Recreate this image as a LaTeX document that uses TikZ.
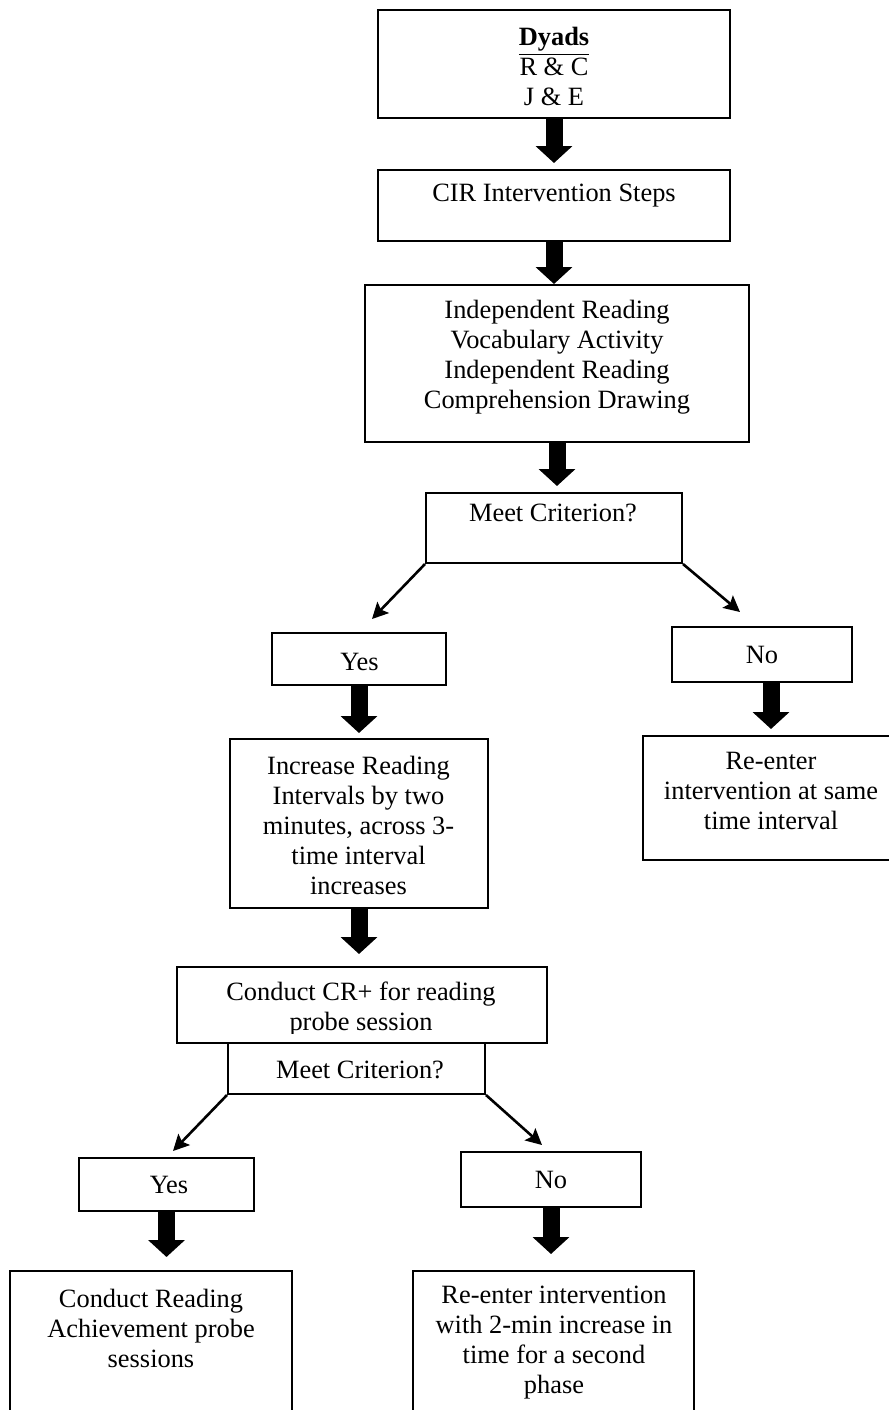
\documentclass[tikz,border=0pt]{standalone}
\usepackage{fontspec}
\setmainfont{Liberation Serif}
\usetikzlibrary{arrows.meta}

\tikzset{
  stepbox/.style={draw, line width=1pt, fill=white, inner sep=0pt},
  steptext/.style={align=center, inner sep=0pt, font=\fontsize{13.2}{15}\selectfont},
  bigarrow/.style={line width=8.5pt, -{Triangle[length=8.5pt, width=18pt]}},
  thinarrow/.style={line width=1.3pt, -{Stealth[length=8pt, width=8pt, inset=1.5pt]}}
}

\begin{document}
\begin{tikzpicture}[x=0.5pt, y=-0.5pt]
  \useasboundingbox (0,0) rectangle (889,1410);
  \clip (0,0) rectangle (889,1410);

  % boxes
  \node[stepbox, minimum width=176pt, minimum height=54pt] (dyads) at (554,64) {};
  \node[stepbox, minimum width=176pt, minimum height=35.5pt] (cir) at (554,205.5) {};
  \node[stepbox, minimum width=192pt, minimum height=78.5pt] (indep) at (557,363.5) {};
  \node[stepbox, minimum width=128pt, minimum height=35pt] (meet1) at (554,528) {};
  \node[stepbox, minimum width=87pt, minimum height=26pt] (yes1) at (359,659) {};
  \node[stepbox, minimum width=90pt, minimum height=27.5pt] (no1) at (762,654.5) {};
  \node[stepbox, minimum width=129pt, minimum height=84.5pt] (incr) at (359,823.5) {};
  \node[stepbox, minimum width=128pt, minimum height=62pt] (reenter1) at (771,798) {};
  \node[stepbox, minimum width=185pt, minimum height=38pt] (conduct) at (362,1005) {};
  \node[stepbox, minimum width=128.5pt, minimum height=25.5pt] (meet2) at (356.5,1068.5) {};
  \node[stepbox, minimum width=87.5pt, minimum height=26.5pt] (yes2) at (166.5,1184.5) {};
  \node[stepbox, minimum width=90pt, minimum height=27.5pt] (no2) at (551,1179.5) {};
  \node[stepbox, minimum width=141pt, minimum height=84.5pt] (achieve) at (151,1355.5) {};
  \node[stepbox, minimum width=140.5pt, minimum height=84.5pt] (reenter2) at (553.5,1355.5) {};

  % texts
  \node[steptext] (dyadsT) at (554,66.5) {\underline{\textbf{Dyads}}\\R \& C\\J \& E};
  \node[steptext] (cirT) at (554,196) {CIR Intervention Steps};
  \node[steptext] (indepT) at (557,357.5)
    {Independent Reading\\Vocabulary Activity\\Independent Reading\\Comprehension Drawing};
  \node[steptext] (meet1T) at (553,513) {Meet Criterion?};
  \node[steptext] (yes1T) at (359.5,662) {Yes};
  \node[steptext] (no1T) at (762,655) {No};
  \node[steptext] (incrT) at (358.5,825.5)
    {Increase Reading\\Intervals by two\\minutes, across 3-\\time interval\\increases};
  \node[steptext] (reenter1T) at (771,791) {Re-enter\\intervention at same\\time interval};
  \begin{scope}
    \clip (177,967) rectangle (547,1033);
    \node[steptext] (conductT) at (361,1008.5) {Conduct CR+ for reading\\probe session};
  \end{scope}
  \node[steptext] (meet2T) at (360,1070) {Meet Criterion?};
  \node[steptext] (yes2T) at (169,1185) {Yes};
  \node[steptext] (no2T) at (551,1180) {No};
  \node[steptext] (achieveT) at (151,1328) {Conduct Reading\\Achievement probe\\sessions};
  \node[steptext] (reenter2T) at (554,1342.5)
    {Re-enter intervention\\with 2-min increase in\\time for a second\\phase};

  % block arrows
  \draw[bigarrow, shorten >=3pt] (dyads.south) -- (dyads.south |- cir.north);
  \draw[bigarrow] (cir.south) -- (cir.south |- indep.north);
  \draw[bigarrow, shorten >=3pt] (indep.south) -- (indep.south |- meet1.north);
  \draw[bigarrow, shorten >=2.5pt] (yes1.south) -- (yes1.south |- incr.north);
  \draw[bigarrow, shorten >=3pt] (no1.south -| reenter1.north) -- (reenter1.north);
  \draw[bigarrow, shorten >=6pt] (incr.south) -- (incr.south |- conduct.north);
  \draw[bigarrow, shorten >=6.5pt] (yes2.south) -- (yes2.south |- achieve.north);
  \draw[bigarrow, shorten >=8pt] (no2.south) -- (no2.south |- reenter2.north);

  % decision arrows
  \draw[thinarrow] (meet1.south west) -- ([xshift=6.5pt, yshift=6.5pt]yes1.north);
  \draw[thinarrow] (meet1.south east) -- ([xshift=-11pt, yshift=7pt]no1.north);
  \draw[thinarrow] (meet2.south west) -- ([xshift=3.25pt, yshift=3pt]yes2.north);
  \draw[thinarrow] (meet2.south east) -- ([xshift=-4.5pt, yshift=3pt]no2.north);
\end{tikzpicture}
\end{document}
